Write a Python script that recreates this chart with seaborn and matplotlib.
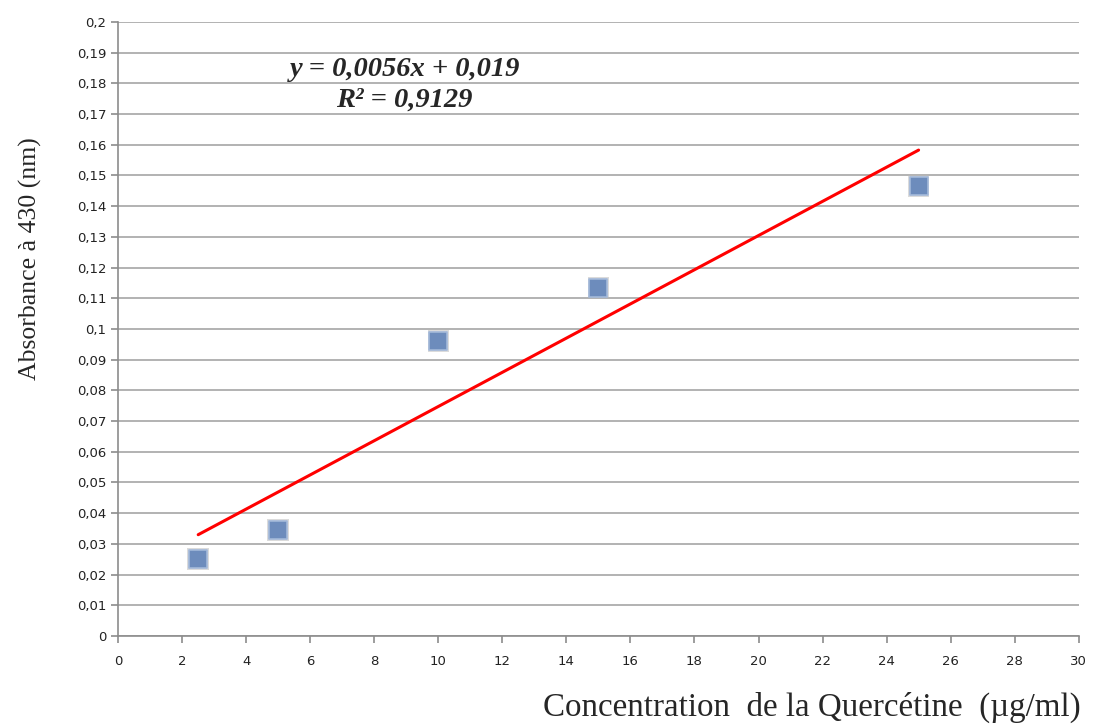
import matplotlib
matplotlib.use("Agg")
import matplotlib.pyplot as plt
import seaborn as sns
import numpy as np
import pandas as pd

concentration = [2.5, 5, 10, 15, 25]
absorbance = [0.025, 0.0345, 0.096, 0.1135, 0.1465]
equation_text = "y = 0,0056x + 0,019"
r2_text = "R² = 0,9129"
x_ticks = list(range(0, 31, 2))
y_ticks = [round(i * 0.01, 2) for i in range(0, 21)]

df = pd.DataFrame({"x": concentration, "y": absorbance})

sns.set_style("white")
plt.rcParams["font.family"] = ["DejaVu Sans"]

fig = plt.figure(figsize=(10.94, 7.25), dpi=100)
ax = fig.add_axes([0.108, 0.1228, 0.878, 0.8469])

sns.regplot(data=df, x="x", y="y", ax=ax, ci=None, scatter=False, truncate=True,
            line_kws=dict(color="#ff0000", lw=2.2, zorder=3))
# shadow
sns.scatterplot(data=df, x="x", y="y", ax=ax, marker="s", s=240, color="#b8b8b8",
                edgecolor="none", alpha=0.5, zorder=3, legend=False)
sns.scatterplot(data=df, x="x", y="y", ax=ax, marker="s", s=180, color="#6d8cbc",
                edgecolor="#a3b9da", linewidth=1.2, zorder=4, legend=False)

ax.set_xlim(0, 30)
ax.set_ylim(0, 0.2)
ax.set_xticks(x_ticks)
ax.set_xticklabels([str(v) for v in x_ticks])
ax.set_yticks(y_ticks)
ax.set_yticklabels([("0" if v == 0 else f"{v:g}".replace(".", ",")) for v in y_ticks])
ax.yaxis.grid(True, color="#a6a6a6", lw=1.2)
ax.xaxis.grid(False)
for s in ["top", "right"]:
    ax.spines[s].set_visible(False)
for s in ["left", "bottom"]:
    ax.spines[s].set_color("#8c8c8c")
    ax.spines[s].set_linewidth(1.2)
ax.tick_params(axis="both", which="major", length=5, width=1.2, color="#8c8c8c",
               labelsize=9.5, labelcolor="#222222", direction="out",
               bottom=True, left=True)
ax.tick_params(axis="x", pad=9)
ax.set_xlabel("")
ax.set_ylabel("")

fig.text(0.028, 0.643, "Absorbance à 430 (nm)", rotation=90, ha="center", va="center",
         family="Liberation Serif", fontsize=18.5)
fig.text(0.988, 0.024, "Concentration  de la Quercétine  (µg/ml)", ha="right", va="center",
         family="Liberation Serif", fontsize=23.8)

ax.text(8.95, 0.1846, equation_text, ha="center", va="center", family="Liberation Serif",
        fontsize=20.5, fontweight="bold", fontstyle="italic")
ax.text(8.95, 0.1746, r2_text, ha="center", va="center", family="Liberation Serif",
        fontsize=20.5, fontweight="bold", fontstyle="italic")

fig.savefig("out.png", dpi=100)
